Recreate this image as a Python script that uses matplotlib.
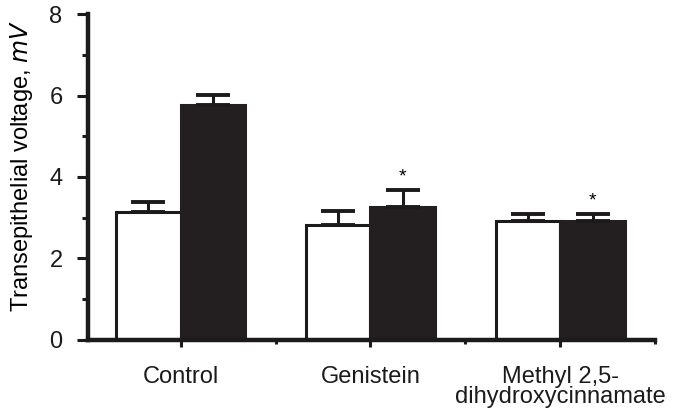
import numpy as np
import matplotlib as mpl; mpl.use("Agg")
import matplotlib.pyplot as plt
from matplotlib.ticker import MultipleLocator

plt.rcParams.update({"font.family": ["Liberation Sans", "DejaVu Sans"]})

groups = ["Control", "Genistein", "Methyl 2,5-\ndihydroxycinnamate"]
open_vals = [3.14, 2.81, 2.91]
open_err = [0.24, 0.35, 0.19]
filled_vals = [5.78, 3.26, 2.91]
filled_err = [0.24, 0.42, 0.19]
stars = ["", "*", "*"]

fig = plt.figure(figsize=(6.79, 4.15), dpi=100)
ax = fig.add_axes([0.129, 0.181, 0.836, 0.785])
x = np.arange(len(groups))
w = 0.34
lw = 2.2
ink = "#1c1a1b"
ax.bar(x - w / 2, open_vals, w, color="white", edgecolor=ink, lw=lw, zorder=2)
ax.bar(x + w / 2, filled_vals, w, color="#231f20", edgecolor="#231f20", lw=lw, zorder=2)
for off, v, e in [(-w / 2, open_vals, open_err), (w / 2, filled_vals, filled_err)]:
    ax.errorbar(x + off, v, yerr=[np.zeros(len(v)), e], fmt="none", ecolor=ink,
                elinewidth=lw, capsize=12, capthick=lw + 0.6, zorder=3)
for xi, v, e, s in zip(x, filled_vals, filled_err, stars):
    if s:
        ax.text(xi + w / 2, v + e + 0.1, s, ha="center", va="bottom", fontsize=14)

ax.set_xlim(-0.49, 2.5); ax.set_ylim(0, 8)
ax.set_xticks(x)
ax.set_xticklabels(groups, fontsize=17, linespacing=0.85)
ax.set_xticks([0.5, 1.5, 2.5], minor=True)
ax.yaxis.set_major_locator(MultipleLocator(2))
ax.yaxis.set_minor_locator(MultipleLocator(1))
ax.tick_params(axis="y", which="major", length=8, width=lw, labelsize=17, pad=10, colors=ink)
ax.tick_params(axis="y", which="minor", length=4, width=lw, colors=ink)
ax.tick_params(axis="x", which="major", length=5, width=lw, pad=14, colors=ink)
ax.tick_params(axis="x", which="minor", length=3, width=lw, colors=ink)
for s in ["top", "right"]:
    ax.spines[s].set_visible(False)
for s in ["left", "bottom"]:
    ax.spines[s].set_linewidth(lw + 1.0)
    ax.spines[s].set_color(ink)
ax.set_ylabel("Transepithelial voltage, $\\it{mV}$", fontsize=17)
ax.yaxis.set_label_coords(-0.093, 0.535)

fig.savefig("out.png", dpi=100, facecolor="white")
